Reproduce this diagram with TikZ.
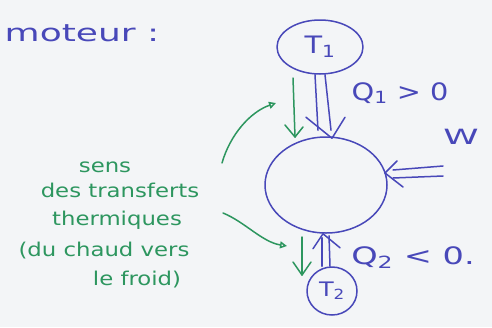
\documentclass[tikz,border=0pt]{standalone}
\usepackage{fontspec}
\setmainfont{DejaVu Sans}
\newfontfamily\handA[FakeStretch=1.5]{DejaVu Sans}
\newfontfamily\handB[FakeStretch=1.2]{DejaVu Sans}
\newfontfamily\handC[FakeStretch=1.4]{DejaVu Sans}
\newfontfamily\handD[FakeStretch=1.7]{DejaVu Sans}
\usetikzlibrary{shapes.geometric,arrows.meta,calc}
\definecolor{ink}{RGB}{72,72,185}
\definecolor{gink}{RGB}{45,150,95}
\definecolor{paper}{RGB}{243,245,247}
\begin{document}
\begin{tikzpicture}[x=1pt,y=-1pt,line cap=round,line join=round,
  res/.style={ellipse,draw=ink,line width=1.5pt,inner sep=0pt,text=ink},
  bl/.style={draw=ink,line width=1.5pt},
  gl/.style={draw=gink,line width=1.5pt},
  blab/.style={text=ink,inner sep=0pt},
  glab/.style={text=gink,inner sep=0pt,font=\handB\fontsize{19}{19}\selectfont},
  gtip/.style={-{Triangle[open,length=7pt,width=7pt]}}]
\fill[paper] (0,0) rectangle (492,327);
\useasboundingbox (0,0) rectangle (492,327);

% reservoirs and engine
\node[res,minimum width=86pt,minimum height=54pt,font=\handB\fontsize{24}{24}\selectfont] (T1) at (320,47) {T\textsubscript{1}};
\node[res,minimum width=122pt,minimum height=96pt] (M) at (326,185) {};
\node[res,minimum width=50pt,minimum height=48pt,font=\handB\fontsize{20}{20}\selectfont] (T2) at (332,291) {T\textsubscript{2}};

% Q1 double arrow
\coordinate (q1) at ($(M.north)+(6,2)$);
\draw[bl] ($(T1.south)+(-5,0)$) -- ($(q1)+(-14,-8)$);
\draw[bl] ($(T1.south)+(5,0)$) -- ($(q1)+(-1,-8)$);
\draw[bl] ($(q1)+(-26,-21)$) -- (q1) -- ($(q1)+(13,-21)$);

% W double arrow
\coordinate (w) at (385,173);
\coordinate (wr) at (443,171);
\draw[bl] ($(wr)+(0,-5)$) -- ($(w)+(8,-3)$);
\draw[bl] ($(wr)+(0,5)$) -- ($(w)+(8,5)$);
\draw[bl] ($(w)+(12,-12)$) -- (w) -- ($(w)+(18,14)$);

% Q2 double arrow
\coordinate (q2) at ($(M.south)+(-3,0)$);
\draw[bl] ($(T2.north)+(-10,0)$) -- ($(q2)+(-1,4)$);
\draw[bl] ($(T2.north)+(-2,0)$) -- ($(q2)+(6,2)$);
\draw[bl] ($(q2)+(-10,15)$) -- (q2) -- ($(q2)+(17,14)$);

% labels
\node[blab,font=\handA\fontsize{24}{24}\selectfont] (mot) at (82,33) {moteur :};
\node[blab,font=\handB\fontsize{24}{24}\selectfont] (q1l) at (400,93) {Q\textsubscript{1} > 0};
\node[blab,font=\handD\fontsize{21}{21}\selectfont] (wl) at (461,137) {W};
\node[blab,font=\handC\fontsize{24}{24}\selectfont] (q2l) at (413,258) {Q\textsubscript{2} < 0.};

% green arrows
\coordinate (g1a) at (293,78);
\coordinate (g1b) at (295,137);
\draw[gl] (g1a) -- (g1b);
\draw[gl] ($(g1b)+(-10,-12)$) -- (g1b) -- ($(g1b)+(8,-10)$);
\coordinate (g2a) at (302,237);
\coordinate (g2b) at (302,275);
\draw[gl] (g2a) -- (g2b);
\draw[gl] ($(g2b)+(-9,-13)$) -- (g2b) -- ($(g2b)+(9,-13)$);

% green text
\node[glab] (s1) at (105,167) {sens};
\node[glab] (s2) at (120,190) {des transferts};
\node[glab] (s3) at (117,220) {thermiques};
\node[glab] (s4) at (104,251) {(du chaud vers};
\node[glab] (s5) at (137,280) {le froid)};

\coordinate (c1) at (222,163);
\coordinate (c1e) at (276,103);
\draw[gl,gtip] (c1) .. controls (230,135) and (250,112) .. (c1e);
\coordinate (c2) at (223,213);
\coordinate (c2e) at (287,246);
\draw[gl,gtip] (c2) .. controls (245,222) and (262,242) .. (c2e);
\end{tikzpicture}
\end{document}
